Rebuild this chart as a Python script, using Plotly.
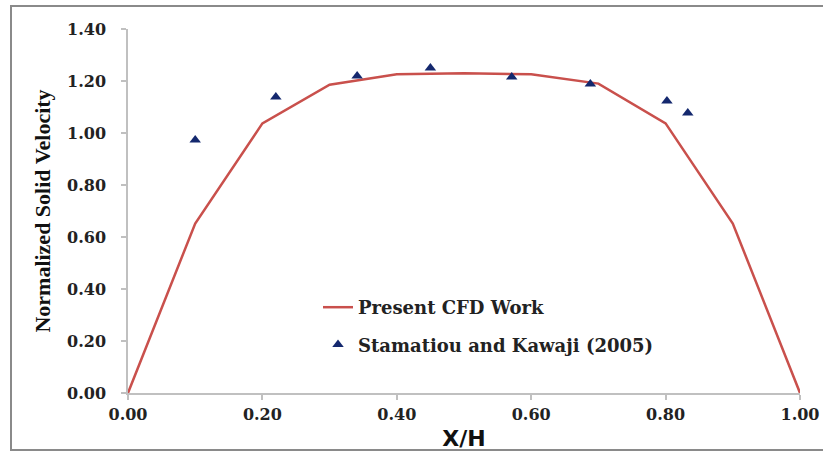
import plotly.graph_objects as go

# CFD simulation curve
cfd_x = [0.0, 0.1, 0.2, 0.3, 0.4, 0.5, 0.6, 0.7, 0.8, 0.9, 1.0]
cfd_y = [0.0, 0.652, 1.037, 1.186, 1.226, 1.230, 1.226, 1.190, 1.037, 0.652, 0.0]

# Experimental data (Stamatiou and Kawaji, 2005)
exp_x = [0.100, 0.220, 0.341, 0.450, 0.571, 0.688, 0.802, 0.833]
exp_y = [0.973, 1.138, 1.219, 1.250, 1.215, 1.188, 1.123, 1.077]

tick_vals = [0.0, 0.2, 0.4, 0.6, 0.8, 1.0, 1.2, 1.4]
x_ticks = [0.0, 0.2, 0.4, 0.6, 0.8, 1.0]

W, H = 823, 452
L, R, T, B = 128, 23, 29, 59
pw, ph = W - L - R, H - T - B

fig = go.Figure()
fig.add_trace(go.Scatter(
    x=cfd_x, y=cfd_y, mode="lines", name="Present CFD Work",
    line=dict(color="#c9504c", width=2.5), legendgroup="a", cliponaxis=False))
fig.add_trace(go.Scatter(
    x=exp_x, y=exp_y, mode="markers", name="Stamatiou and Kawaji (2005)",
    marker=dict(symbol="triangle-up", size=10, color="#14286e"),
    legendgroup="b", cliponaxis=False))

axis_common = dict(
    showgrid=False, zeroline=False, showline=True, linecolor="#c0c0c0", linewidth=1.5,
    ticks="outside", ticklen=5, tickcolor="#c0c0c0", tickwidth=1.5, automargin=False,
    tickfont=dict(family="DejaVu Serif", size=16, color="#222222", weight="bold"),
)

fig.update_layout(
    width=W, height=H, margin=dict(l=L, r=R, t=T, b=B, autoexpand=False),
    paper_bgcolor="white", plot_bgcolor="white",
    xaxis=dict(range=[0, 1], tickvals=x_ticks, tickformat=".2f",
               ticklabelstandoff=1,
               title=dict(text="X/H", standoff=8,
                          font=dict(family="DejaVu Sans", size=22, color="#111111", weight="bold")),
               **axis_common),
    yaxis=dict(range=[0, 1.4], tickvals=tick_vals, tickformat=".2f",
               ticklabelstandoff=12,
               title=dict(text="Normalized Solid Velocity", standoff=10,
                          font=dict(family="Liberation Serif", size=22, color="#111111", weight="bold")),
               **axis_common),
    showlegend=True,
    legend=dict(x=(318 - L) / pw, y=(393 - 289) / ph, xanchor="left", yanchor="top",
                bgcolor="rgba(0,0,0,0)", tracegroupgap=11, traceorder="grouped",
                font=dict(family="DejaVu Serif", size=18, color="#222222", weight="bold")),
    shapes=[dict(type="rect", xref="paper", yref="paper",
                 x0=(11 - L) / pw, x1=(830 - L) / pw,
                 y0=(393 - 450) / ph, y1=(393 - 6) / ph,
                 line=dict(color="#8a8a8a", width=2), layer="below")],
)

fig.write_html("out.html")
